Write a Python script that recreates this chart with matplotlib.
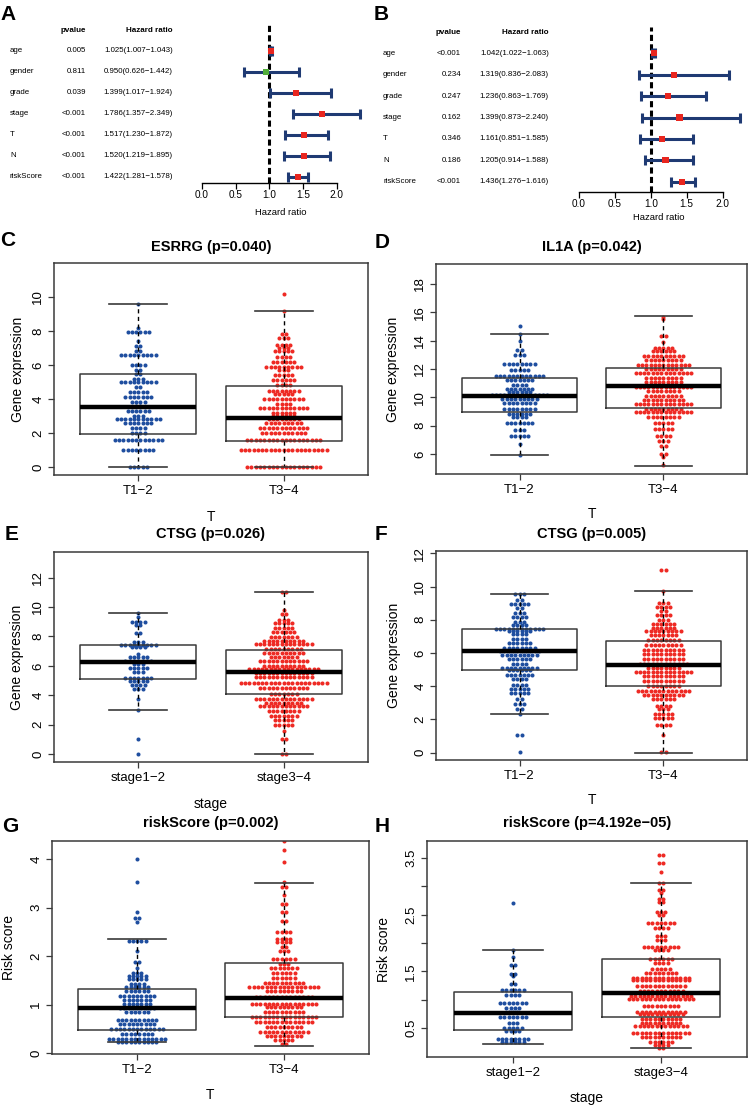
import numpy as np
import matplotlib
matplotlib.use("Agg")
import matplotlib.pyplot as plt
from matplotlib import transforms

plt.rcParams["font.family"] = ["Liberation Sans", "DejaVu Sans"]

W, H = 751, 1108

# ---- forest plots (A: univariate, B: multivariate) ----
fp_vars = ["age", "gender", "grade", "stage", "T", "N", "riskScore"]
a_pval = ["0.005", "0.811", "0.039", "<0.001", "<0.001", "<0.001", "<0.001"]
a_hr = [1.025, 0.950, 1.399, 1.786, 1.517, 1.520, 1.422]
a_lo = [1.007, 0.626, 1.017, 1.357, 1.230, 1.219, 1.281]
a_hi = [1.043, 1.442, 1.924, 2.349, 1.872, 1.895, 1.578]
b_pval = ["<0.001", "0.234", "0.247", "0.162", "0.346", "0.186", "<0.001"]
b_hr = [1.042, 1.319, 1.236, 1.399, 1.161, 1.205, 1.436]
b_lo = [1.022, 0.836, 0.863, 0.873, 0.851, 0.914, 1.276]
b_hi = [1.063, 2.083, 1.769, 2.240, 1.585, 1.588, 1.616]
hr_ticks = [0.0, 0.5, 1.0, 1.5, 2.0]

# ---- beeswarm groups: row values and number of dots per row ----
t_groups = ["T1\u22122", "T3\u22124"]
stage_groups = ["stage1\u22122", "stage3\u22124"]

esrrg_t12_val = [0, 1.0, 1.6, 2.0, 2.3, 2.6, 2.8, 3.0, 3.3, 3.6, 3.8, 4.1, 4.4, 4.7, 5.0, 5.2,
                 5.5, 5.7, 6.0, 6.6, 6.8, 7.1, 7.4, 7.95, 8.15, 9.6]
esrrg_t12_cnt = [5, 8, 12, 4, 4, 7, 11, 3, 6, 2, 4, 7, 5, 2, 9, 3, 2, 2, 4, 9, 2, 2, 1, 6, 1, 1]
esrrg_t34_val = [0, 1.0, 1.6, 2.0, 2.3, 2.6, 2.8, 3.0, 3.2, 3.5, 3.7, 4.0, 4.3, 4.5, 4.8, 5.1,
                 5.4, 5.7, 5.9, 6.2, 6.5, 6.85, 7.0, 7.2, 7.6, 7.85, 9.2, 10.2]
esrrg_t34_cnt = [18, 21, 18, 11, 12, 9, 8, 6, 6, 12, 4, 10, 5, 8, 4, 6, 5, 3, 9, 6, 4, 5, 3, 4,
                 3, 2, 1, 1]
esrrg_box = [[0, 1.96, 3.53, 5.49, 9.59], [0, 1.55, 2.86, 4.76, 9.16]]

il1a_t12_val = [5.9, 6.7, 7.3, 7.7, 8.2, 8.6, 8.8, 9.2, 9.6, 9.9, 10.15, 10.4, 10.6, 10.9,
                11.25, 11.5, 11.9, 12.35, 13.0, 13.35, 14.0, 14.5, 15.0]
il1a_t12_cnt = [1, 1, 5, 3, 7, 4, 6, 8, 8, 9, 14, 6, 7, 4, 7, 12, 5, 8, 3, 2, 1, 1, 1]
il1a_t34_val = [5.2, 5.8, 6.0, 6.6, 6.9, 7.3, 7.8, 8.2, 8.6, 9.0, 9.2, 9.5, 9.8, 10.1, 10.45,
                10.75, 11.1, 11.4, 11.7, 12.0, 12.3, 12.6, 12.9, 13.3, 13.5, 13.9, 14.3, 15.5, 15.7]
il1a_t34_cnt = [1, 1, 2, 2, 3, 4, 5, 5, 8, 14, 9, 14, 10, 9, 8, 14, 9, 9, 14, 9, 13, 9, 10, 6,
                5, 1, 2, 1, 1]
il1a_box = [[5.9, 8.94, 10.07, 11.34, 14.49], [5.18, 9.22, 10.77, 12.09, 15.71]]

ctsg_s12_val = [0, 1.0, 3.0, 3.76, 4.45, 4.67, 5.0, 5.2, 5.6, 5.85, 6.1, 6.3, 6.6, 6.8, 7.3,
                7.45, 7.6, 8.2, 8.8, 9.0, 9.3, 9.6]
ctsg_s12_cnt = [1, 1, 1, 1, 3, 4, 5, 7, 3, 5, 3, 7, 5, 1, 4, 9, 3, 2, 2, 4, 1, 1]
ctsg_s34_val = [0, 1.0, 1.54, 2.0, 2.29, 2.56, 2.9, 3.26, 3.5, 3.76, 4.1, 4.5, 4.83, 5.24, 5.5,
                5.76, 6.0, 6.3, 6.6, 6.9, 7.15, 7.5, 7.67, 7.96, 8.3, 8.6, 8.9, 9.1, 9.5, 9.8, 11.05]
ctsg_s34_cnt = [2, 2, 1, 5, 5, 7, 8, 12, 9, 14, 7, 12, 21, 14, 14, 17, 10, 12, 7, 10, 9, 14, 10,
                7, 6, 5, 5, 3, 2, 1, 2]
ctsg_s_box = [[2.97, 5.08, 6.26, 7.39, 9.59], [0, 4.1, 5.58, 7.05, 11.05]]

ctsg_t12_val = [0.03, 1.04, 2.34, 2.6, 2.9, 3.2, 3.6, 3.85, 4.05, 4.41, 4.67, 4.95, 5.1, 5.31,
                5.61, 5.86, 6.12, 6.32, 6.62, 6.86, 7.12, 7.32, 7.46, 7.7, 7.88, 8.16, 8.4, 8.7,
                8.96, 9.2, 9.53]
ctsg_t12_cnt = [1, 2, 1, 2, 3, 2, 5, 5, 4, 4, 7, 6, 9, 4, 6, 9, 10, 8, 6, 4, 4, 6, 12, 4, 3, 4,
                3, 2, 5, 2, 3]
ctsg_t34_val = [0.03, 1.04, 1.64, 2.1, 2.34, 2.6, 2.8, 3.2, 3.44, 3.7, 4.0, 4.3, 4.6, 4.85, 5.11,
                5.31, 5.61, 5.92, 6.18, 6.46, 6.76, 7.06, 7.32, 7.52, 7.76, 7.98, 8.28, 8.52,
                8.76, 9.03, 9.73, 11.0]
ctsg_t34_cnt = [2, 1, 4, 5, 5, 3, 4, 6, 10, 13, 8, 10, 10, 14, 8, 12, 10, 10, 10, 9, 8, 7, 9, 6,
                6, 3, 4, 2, 4, 3, 1, 2]
ctsg_t_box = [[2.34, 4.95, 6.12, 7.42, 9.53], [0, 3.98, 5.29, 6.72, 9.73]]

risk_t12_val = [0.23, 0.3, 0.4, 0.5, 0.59, 0.68, 0.85, 0.93, 1.02, 1.1, 1.18, 1.28, 1.37, 1.43,
                1.52, 1.6, 1.65, 1.75, 1.89, 2.11, 2.32, 2.71, 2.78, 2.92, 3.54, 4.0]
risk_t12_cnt = [10, 14, 8, 13, 9, 10, 6, 9, 7, 7, 9, 6, 6, 4, 5, 5, 3, 1, 2, 1, 5, 1, 2, 1, 1, 1]
risk_t34_val = [0.18, 0.27, 0.35, 0.44, 0.53, 0.65, 0.75, 0.85, 0.96, 1.02, 1.16, 1.28, 1.37,
                1.45, 1.54, 1.65, 1.75, 1.83, 1.95, 2.11, 2.2, 2.3, 2.36, 2.5, 2.73, 2.91, 3.08,
                3.27, 3.42, 3.54, 3.95, 4.2, 4.38]
risk_t34_cnt = [2, 5, 9, 12, 9, 14, 16, 10, 9, 16, 14, 9, 17, 10, 6, 6, 7, 3, 6, 3, 2, 4, 4, 4,
                2, 2, 2, 1, 2, 1, 1, 1, 1]
risk_t_box = [[0.22, 0.48, 0.92, 1.33, 2.36], [0.14, 0.74, 1.13, 1.86, 3.52]]

risk_s12_val = [0.26, 0.31, 0.44, 0.5, 0.59, 0.69, 0.78, 0.85, 0.94, 1.09, 1.18, 1.28, 1.41,
                1.46, 1.62, 1.75, 1.88, 2.71]
risk_s12_cnt = [6, 8, 4, 5, 3, 7, 3, 4, 7, 4, 6, 2, 1, 2, 2, 1, 1, 1]
risk_s34_val = [0.15, 0.21, 0.26, 0.34, 0.42, 0.53, 0.59, 0.66, 0.74, 0.79, 0.89, 1.01, 1.07,
                1.16, 1.24, 1.34, 1.39, 1.47, 1.54, 1.65, 1.72, 1.88, 1.93, 2.06, 2.12, 2.26,
                2.35, 2.5, 2.54, 2.72, 2.78, 2.89, 2.94, 3.06, 3.25, 3.41, 3.55]
risk_s34_cnt = [2, 4, 6, 10, 14, 13, 10, 10, 11, 12, 9, 16, 15, 11, 12, 14, 14, 8, 5, 4, 6, 4,
                9, 3, 3, 4, 7, 2, 3, 2, 2, 1, 2, 2, 1, 2, 2]
risk_s_box = [[0.22, 0.46, 0.76, 1.14, 1.88], [0.15, 0.69, 1.12, 1.71, 3.06]]

BLUE = "#1f4e9f"
RED = "#ee2a24"
NAVY = "#1f3a73"
BOX_RED = "#e8261f"
BOX_GREEN = "#52ad3a"
LINE = "#3a3a3a"
DOT_PX = 4.3  # dot pitch in pixels


def axes_px(fig, x0, y0, x1, y1):
    return fig.add_axes([x0 / W, 1 - y1 / H, (x1 - x0) / W, (y1 - y0) / H])


def text_px(fig, x, y, s, **kw):
    kw.setdefault("ha", "center")
    kw.setdefault("va", "center")
    fig.text(x / W, 1 - y / H, s, **kw)


def centre_rows(vals, cnts, pitch):
    """Beeswarm 'center' layout: each row of k dots centred on the group axis."""
    xs, ys = [], []
    for v, k in zip(vals, cnts):
        xs.extend((np.arange(k) - (k - 1) / 2) * pitch)
        ys.extend([v] * k)
    return np.array(xs), np.array(ys, float)


def forest(fig, pvals, hr, lo, hi, x0, scale, row0, step, y_axis, cols, head_y, xlab, xlab_y):
    n = len(fp_vars)
    ypos = n - np.arange(n)
    ybot = 1 - (y_axis - (row0 + (n - 1) * step)) / step
    y_of = lambda py: n + (row0 - py) / step
    ytop = y_of(head_y - 10)
    ax = axes_px(fig, x0, head_y - 10, x0 + 2.5 * scale, y_axis)
    ax.set_xlim(0, 2.5)
    ax.set_ylim(ybot, ytop)
    for s in ["top", "left", "right"]:
        ax.spines[s].set_visible(False)
    ax.spines["bottom"].set_bounds(0, 2)
    ax.spines["bottom"].set_linewidth(1)
    ax.set_yticks([])
    ax.set_xticks(hr_ticks)
    ax.set_xticklabels([f"{t:.1f}" for t in hr_ticks])
    ax.tick_params(axis="x", length=4, width=0.9, pad=1.5, labelsize=7.2)
    ax.patch.set_visible(False)

    ax.plot([1, 1], [ybot, y_of(head_y - 5)], color="black", lw=2.2,
            ls=(0, (2.0, 1.1)), clip_on=False, zorder=1)
    hr = np.array(hr)
    eb = ax.errorbar(hr, ypos, xerr=[hr - np.array(lo), np.array(hi) - hr], fmt="none",
                     ecolor=NAVY, elinewidth=2.2, capsize=3.6, capthick=2.2, zorder=2)
    for art in eb.get_children():
        art.set_clip_on(False)
    ax.scatter(hr, ypos, marker="s", s=20, c=[BOX_RED if h > 1 else BOX_GREEN for h in hr],
               zorder=3, clip_on=False, linewidths=0)

    trans = transforms.blended_transform_factory(fig.transFigure, ax.transData)
    ax.text(cols[1] / W, y_of(head_y), "pvalue", transform=trans, ha="right", va="center",
            fontsize=5.8, fontweight="bold")
    ax.text(cols[2] / W, y_of(head_y), "Hazard ratio", transform=trans, ha="right",
            va="center", fontsize=5.8, fontweight="bold")
    for i in range(n):
        ax.text(cols[0] / W, ypos[i], fp_vars[i], transform=trans, ha="left", va="center",
                fontsize=5.7)
        ax.text(cols[1] / W, ypos[i], pvals[i], transform=trans, ha="right", va="center",
                fontsize=5.7)
        ax.text(cols[2] / W, ypos[i], f"{hr[i]:.3f}({lo[i]:.3f}\u2212{hi[i]:.3f})",
                transform=trans, ha="right", va="center", fontsize=5.7)
    text_px(fig, xlab, xlab_y, "Hazard ratio", fontsize=6.8)


def box_panel(fig, rect, ylim, yticks, ylabels, groups, vals, cnts, stats, title,
              xlabel, ylabel, ylab_x, title_y, xlab_y):
    ax = axes_px(fig, *rect)
    xlim = (0.42, 2.58)
    xs = (rect[2] - rect[0]) / (xlim[1] - xlim[0])
    for i, (v, c, col) in enumerate(zip(vals, cnts, [BLUE, RED])):
        off, data = centre_rows(v, c, DOT_PX / xs)
        ax.scatter(i + 1 + off, data, s=8.5, color=col, linewidths=0, zorder=2)
    bstats = [dict(whislo=s[0], q1=s[1], med=s[2], q3=s[3], whishi=s[4], fliers=[])
              for s in stats]
    ax.bxp(bstats, positions=[1, 2], widths=0.8, capwidths=0.4, showfliers=False,
           boxprops=dict(color=LINE, lw=1.1),
           medianprops=dict(color="black", lw=3.2, solid_capstyle="butt"),
           whiskerprops=dict(color="black", lw=1, ls=(0, (3, 2.5))),
           capprops=dict(color=LINE, lw=1.2), zorder=3)
    ax.set_xlim(*xlim)
    ax.set_ylim(*ylim)
    ax.set_xticks([1, 2])
    ax.set_xticklabels(groups)
    ax.set_yticks(yticks)
    ax.set_yticklabels(ylabels, rotation=90, va="center")
    for s in ax.spines.values():
        s.set_color(LINE)
        s.set_linewidth(1.1)
    ax.tick_params(length=4, width=0.9, color=LINE, labelsize=9.5)
    ax.tick_params(axis="x", pad=3)
    ax.tick_params(axis="y", pad=3)
    cx = (rect[0] + rect[2]) / 2
    text_px(fig, cx, title_y, title, fontsize=10.5, fontweight="bold")
    text_px(fig, cx, xlab_y, xlabel, fontsize=10)
    text_px(fig, ylab_x, (rect[1] + rect[3]) / 2, ylabel, fontsize=10, rotation=90)
    return ax


fig = plt.figure(figsize=(W / 100, H / 100), dpi=100)

forest(fig, a_pval, a_hr, a_lo, a_hi, x0=202, scale=67.3, row0=50.7, step=21.0, y_axis=182.7,
       cols=(10, 86, 173), head_y=30, xlab=281, xlab_y=212)
forest(fig, b_pval, b_hr, b_lo, b_hi, x0=579, scale=71.8, row0=53.3, step=21.4, y_axis=191.7,
       cols=(383, 461, 549), head_y=32.3, xlab=659, xlab_y=217)

gene_ticks = [0, 2, 4, 6, 8, 10]
box_panel(fig, (54, 263, 368, 475), (-0.47, 12.0), gene_ticks, [str(t) for t in gene_ticks],
          t_groups, [esrrg_t12_val, esrrg_t34_val], [esrrg_t12_cnt, esrrg_t34_cnt], esrrg_box,
          "ESRRG (p=0.040)", "T", "Gene expression", 18, 247, 517)
il_ticks = [6, 8, 10, 12, 14, 16, 18]
box_panel(fig, (436, 264, 747, 474), (4.59, 19.41), il_ticks, [str(t) for t in il_ticks],
          t_groups, [il1a_t12_val, il1a_t34_val], [il1a_t12_cnt, il1a_t34_cnt], il1a_box,
          "IL1A (p=0.042)", "T", "Gene expression", 393, 247, 514)
ct_ticks = [0, 2, 4, 6, 8, 10, 12]
box_panel(fig, (54, 552, 368, 762), (-0.54, 13.74), ct_ticks, [str(t) for t in ct_ticks],
          stage_groups, [ctsg_s12_val, ctsg_s34_val], [ctsg_s12_cnt, ctsg_s34_cnt], ctsg_s_box,
          "CTSG (p=0.026)", "stage", "Gene expression", 17, 534, 804)
box_panel(fig, (436, 551, 747, 760), (-0.45, 12.14), ct_ticks, [str(t) for t in ct_ticks],
          t_groups, [ctsg_t12_val, ctsg_t34_val], [ctsg_t12_cnt, ctsg_t34_cnt], ctsg_t_box,
          "CTSG (p=0.005)", "T", "Gene expression", 394, 534, 800)
rs_ticks = [0, 1, 2, 3, 4]
box_panel(fig, (52, 841, 369, 1054), (-0.02, 4.38), rs_ticks, [str(t) for t in rs_ticks],
          t_groups, [risk_t12_val, risk_t34_val], [risk_t12_cnt, risk_t34_cnt], risk_t_box,
          "riskScore (p=0.002)", "T", "Risk score", 9, 823, 1095)
rh_ticks = [0.5, 1.0, 1.5, 2.0, 2.5, 3.0, 3.5]
rh_labels = ["0.5", "", "1.5", "", "2.5", "", "3.5"]
box_panel(fig, (427, 841, 747, 1057), (-0.01, 3.8), rh_ticks, rh_labels,
          stage_groups, [risk_s12_val, risk_s34_val], [risk_s12_cnt, risk_s34_cnt], risk_s_box,
          "riskScore (p=4.192e\u221205)", "stage", "Risk score", 384, 823, 1098)

for lab, x, y in [("A", 8, 15), ("B", 381, 15), ("C", 8, 241), ("D", 382, 242),
                  ("E", 12, 535), ("F", 381, 534), ("G", 10, 826), ("H", 382, 826)]:
    text_px(fig, x, y, lab, fontsize=15, fontweight="bold")

fig.savefig("out.png", dpi=100)
